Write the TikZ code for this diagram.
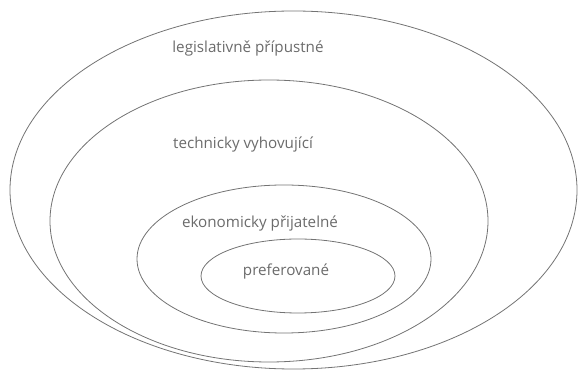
\documentclass[tikz,border=0pt]{standalone}
\usepackage{fontspec}
\setmainfont{Open Sans}
\begin{document}
\begin{tikzpicture}[x=1pt,y=-1pt,
  ring/.style={draw=black!55,line width=0.8pt},
  lbl/.style={text=black!58,font=\fontsize{15.2}{17}\selectfont,inner sep=0pt}]
\useasboundingbox (0,0) rectangle (579,371);
\draw[ring] (293.5,190) ellipse [x radius=283.5pt, y radius=179pt];
\draw[ring] (269,221) ellipse [x radius=219pt, y radius=141pt];
\draw[ring] (284,259) ellipse [x radius=147pt, y radius=74pt];
\draw[ring] (298,276) ellipse [x radius=97pt, y radius=37pt];
\node[lbl] (l1) at (248,49) {legislativně přípustné};
\node[lbl] (l2) at (243,145) {technicky vyhovující};
\node[lbl] (l3) at (260,224) {ekonomicky přijatelné};
\node[lbl] (l4) at (286,272) {preferované};
\end{tikzpicture}
\end{document}
